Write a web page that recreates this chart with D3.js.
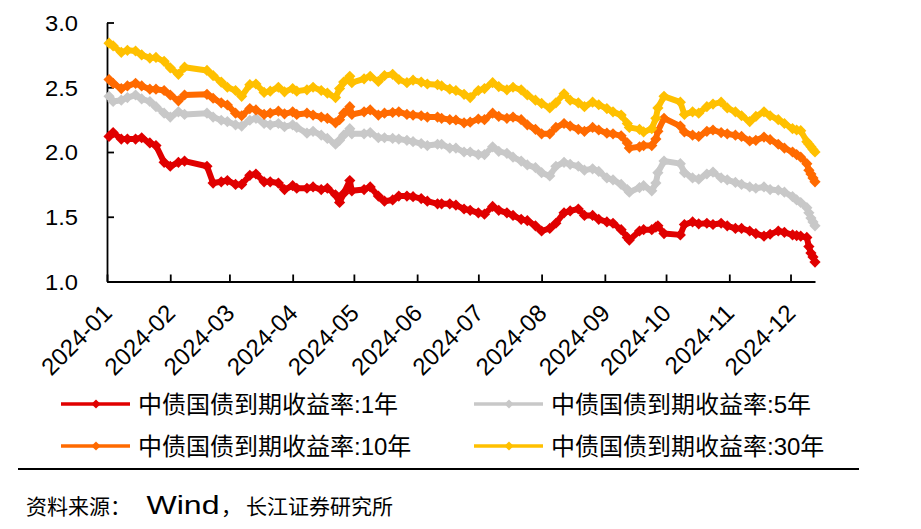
<!DOCTYPE html>
<html><head><meta charset="utf-8">
<script src="https://cdn.jsdelivr.net/npm/d3@7"></script>
<style>
html,body{margin:0;padding:0;background:#fff;}
svg{display:block;}
</style></head><body>
<svg id="chart" width="921" height="529"></svg>
<script>
// ---------- data ----------
const dates = [
  "2024-01-02","2024-01-04","2024-01-08","2024-01-11","2024-01-15","2024-01-18","2024-01-22","2024-01-25","2024-01-29",
  "2024-02-01","2024-02-05","2024-02-08","2024-02-19","2024-02-22","2024-02-26","2024-02-29",
  "2024-03-04","2024-03-07","2024-03-11","2024-03-14","2024-03-18","2024-03-21","2024-03-25","2024-03-28",
  "2024-04-01","2024-04-03","2024-04-08","2024-04-11","2024-04-15","2024-04-18","2024-04-22","2024-04-24","2024-04-26","2024-04-29","2024-04-30",
  "2024-05-06","2024-05-09","2024-05-13","2024-05-16","2024-05-20","2024-05-23","2024-05-27","2024-05-30",
  "2024-06-03","2024-06-06","2024-06-11","2024-06-13","2024-06-17","2024-06-20","2024-06-24","2024-06-27",
  "2024-07-01","2024-07-04","2024-07-08","2024-07-11","2024-07-15","2024-07-18","2024-07-22","2024-07-25","2024-07-29",
  "2024-08-01","2024-08-05","2024-08-08","2024-08-12","2024-08-15","2024-08-19","2024-08-22","2024-08-26","2024-08-29",
  "2024-09-02","2024-09-05","2024-09-09","2024-09-12","2024-09-13","2024-09-18","2024-09-20","2024-09-24","2024-09-26","2024-09-27","2024-09-30",
  "2024-10-08","2024-10-10","2024-10-14","2024-10-17","2024-10-21","2024-10-24","2024-10-28","2024-10-31",
  "2024-11-04","2024-11-07","2024-11-11","2024-11-14","2024-11-18","2024-11-21","2024-11-25","2024-11-28",
  "2024-12-02","2024-12-04","2024-12-06","2024-12-09","2024-12-10","2024-12-11","2024-12-12","2024-12-13"
];

const yield1Y = [
  2.12,2.15,2.10,2.10,2.10,2.11,2.07,2.05,1.92,
  1.89,1.92,1.93,1.89,1.76,1.77,1.78,
  1.75,1.75,1.82,1.83,1.77,1.77,1.76,1.71,
  1.74,1.72,1.72,1.73,1.71,1.72,1.67,1.61,1.68,1.78,1.70,
  1.71,1.73,1.66,1.62,1.63,1.66,1.66,1.655,
  1.64,1.62,1.60,1.60,1.60,1.59,1.56,1.55,
  1.53,1.52,1.58,1.55,1.53,1.51,1.48,1.47,1.43,
  1.39,1.41,1.45,1.53,1.545,1.56,1.51,1.51,1.48,
  1.46,1.45,1.40,1.34,1.32,1.39,1.40,1.40,1.42,1.43,1.37,
  1.36,1.44,1.46,1.445,1.45,1.44,1.45,1.43,
  1.41,1.41,1.39,1.37,1.35,1.365,1.39,1.38,
  1.36,1.355,1.35,1.34,1.27,1.22,1.19,1.15
];

const yield5Y = [
  2.43,2.39,2.40,2.42,2.44,2.41,2.39,2.35,2.30,
  2.27,2.31,2.29,2.30,2.27,2.245,2.235,
  2.21,2.20,2.245,2.26,2.22,2.21,2.22,2.195,
  2.21,2.19,2.145,2.16,2.13,2.105,2.06,2.09,2.13,2.18,2.14,
  2.14,2.15,2.11,2.11,2.105,2.10,2.09,2.08,
  2.065,2.05,2.06,2.06,2.03,2.03,2.00,2.00,
  1.98,1.98,2.04,2.005,1.99,1.96,1.93,1.90,1.88,
  1.84,1.815,1.89,1.92,1.905,1.89,1.86,1.87,1.85,
  1.80,1.785,1.75,1.71,1.69,1.725,1.74,1.70,1.76,1.84,1.93,
  1.91,1.84,1.80,1.79,1.83,1.845,1.80,1.785,
  1.765,1.75,1.73,1.72,1.73,1.71,1.705,1.69,
  1.655,1.63,1.61,1.57,1.53,1.49,1.46,1.43
];

const yield10Y = [
  2.56,2.53,2.49,2.51,2.53,2.51,2.485,2.485,2.475,
  2.44,2.395,2.44,2.445,2.415,2.38,2.363,
  2.30,2.28,2.335,2.325,2.29,2.30,2.315,2.295,
  2.31,2.29,2.30,2.285,2.27,2.26,2.225,2.25,2.30,2.35,2.29,
  2.31,2.325,2.285,2.30,2.305,2.31,2.29,2.285,
  2.28,2.27,2.27,2.26,2.25,2.247,2.225,2.23,
  2.255,2.25,2.30,2.275,2.26,2.27,2.25,2.21,2.175,
  2.14,2.14,2.19,2.22,2.20,2.175,2.16,2.19,2.17,
  2.145,2.14,2.125,2.07,2.03,2.04,2.05,2.05,2.10,2.16,2.26,
  2.20,2.155,2.13,2.12,2.16,2.17,2.15,2.14,
  2.13,2.12,2.085,2.09,2.115,2.095,2.06,2.03,
  2.00,1.98,1.96,1.91,1.86,1.83,1.80,1.77
];

const yield30Y = [
  2.84,2.82,2.77,2.785,2.78,2.75,2.725,2.73,2.70,
  2.65,2.60,2.655,2.63,2.59,2.54,2.50,
  2.475,2.43,2.52,2.525,2.46,2.47,2.50,2.465,
  2.49,2.47,2.48,2.50,2.475,2.455,2.42,2.49,2.54,2.585,2.535,
  2.565,2.585,2.545,2.59,2.60,2.56,2.535,2.555,
  2.54,2.525,2.52,2.51,2.485,2.475,2.445,2.42,
  2.475,2.49,2.535,2.505,2.48,2.50,2.48,2.44,2.40,
  2.375,2.34,2.38,2.45,2.40,2.38,2.35,2.385,2.365,
  2.335,2.31,2.285,2.22,2.19,2.175,2.155,2.18,2.26,2.34,2.43,
  2.385,2.29,2.31,2.30,2.35,2.37,2.385,2.34,
  2.31,2.28,2.235,2.275,2.31,2.28,2.25,2.22,
  2.18,2.17,2.165,2.08,2.06,2.04,2.02,2.00
];

const seriesNames = ["中债国债到期收益率:1年","中债国债到期收益率:5年","中债国债到期收益率:10年","中债国债到期收益率:30年"];
const yTickValues = [1.0, 1.5, 2.0, 2.5, 3.0];
const xDomain = ["2024-01-01","2024-12-13"];
const sourceParts = ["资料来源：","Wind","，","长江证券研究所"];

// ---------- styles ----------
const colors = ["#E00000","#C8C8C8","#FF6A00","#FFC000"];
const latin = "'Liberation Sans', Arial, 'Noto Sans CJK SC', sans-serif";
const cjk = "'Noto Sans CJK SC', 'Liberation Sans', sans-serif";

const W = 921, H = 529;
const svg = d3.select("#chart");
svg.append("rect").attr("width", W).attr("height", H).attr("fill", "#fff");

const parse = d3.timeParse("%Y-%m-%d");
const x = d3.scaleTime().domain(xDomain.map(parse)).range([107, 815]);
const y = d3.scaleLinear().domain([1, 3]).range([281.5, 22.5]);

// ---------- axes ----------
const gy = svg.append("g").attr("transform", "translate(107,0)")
  .call(d3.axisLeft(y).tickValues(yTickValues).tickSize(-7).tickSizeOuter(0).tickPadding(29).tickFormat(d3.format(".1f")));
gy.select(".domain").attr("stroke", "#000").attr("stroke-width", 1.8);
gy.selectAll(".tick line").attr("stroke", "#000").attr("stroke-width", 1.8);
gy.selectAll(".tick text").attr("font-family", latin).attr("font-size", 22).attr("fill", "#000")
  .attr("dy", "0.36em").attr("textLength", 33).attr("lengthAdjust", "spacingAndGlyphs");

const gx = svg.append("g").attr("transform", "translate(0,281.5)")
  .call(d3.axisBottom(x).ticks(d3.timeMonth.every(1)).tickFormat(d3.timeFormat("%Y-%m")).tickSize(-7).tickSizeOuter(0));
gx.select(".domain").attr("stroke", "#000").attr("stroke-width", 1.8);
gx.selectAll(".tick line").attr("stroke", "#000").attr("stroke-width", 1.8);
gx.selectAll(".tick text").attr("font-family", latin).attr("font-size", 24).attr("fill", "#000")
  .attr("x", 0).attr("y", 0).attr("dy", null).attr("text-anchor", "end")
  .attr("transform", "translate(6,33) rotate(-45)");

// ---------- series ----------
const allSeries = [yield1Y, yield5Y, yield10Y, yield30Y];
const line = d3.line().x(d => x(d.date)).y(d => y(d.v));
const diamond = r => `M0,${-r}L${r},0L0,${r}L${-r},0Z`;
allSeries.forEach((vals, k) => {
  if (vals.length !== dates.length) console.error("length mismatch", k, vals.length, dates.length);
  const pts = dates.map((d, i) => ({ date: parse(d), v: vals[i] }));
  const g = svg.append("g");
  g.append("path").datum(pts).attr("d", line).attr("fill", "none")
    .attr("stroke", colors[k]).attr("stroke-width", 6).attr("stroke-linejoin", "round");
  g.selectAll("path.m").data(pts).join("path").attr("class", "m")
    .attr("d", diamond(5.6))
    .attr("transform", d => `translate(${x(d.date)},${y(d.v)})`)
    .attr("fill", colors[k]);
});

// ---------- legend ----------
const legendPos = [[61, 404], [474, 404], [61, 446], [474, 446]];
seriesNames.forEach((name, k) => {
  const [lx, ly] = legendPos[k];
  const g = svg.append("g").attr("transform", `translate(${lx},${ly})`);
  g.append("line").attr("x1", 0).attr("x2", 69).attr("y1", 0).attr("y2", 0)
    .attr("stroke", colors[k]).attr("stroke-width", 3.6);
  g.append("path").attr("d", diamond(4.6)).attr("transform", "translate(35,0)").attr("fill", colors[k]);
  g.append("text").attr("x", 77).attr("y", 9).attr("font-family", latin).attr("font-size", 24)
    .attr("fill", "#000").text(name);
});

// ---------- separator + source ----------
svg.append("line").attr("x1", 18).attr("x2", 859).attr("y1", 469).attr("y2", 469)
  .attr("stroke", "#000").attr("stroke-width", 2.2);

const src = svg.append("text").attr("y", 514).attr("fill", "#000").attr("font-size", 21);
src.append("tspan").attr("x", 26).attr("font-family", cjk).text(sourceParts[0]);
src.append("tspan").attr("x", 146.5).attr("font-family", latin).attr("font-size", 25)
  .attr("textLength", 73).attr("lengthAdjust", "spacingAndGlyphs").text(sourceParts[1]);
src.append("tspan").attr("x", 221).attr("font-family", cjk).text(sourceParts[2]);
src.append("tspan").attr("x", 246).attr("font-family", cjk).text(sourceParts[3]);
</script>
</body></html>
